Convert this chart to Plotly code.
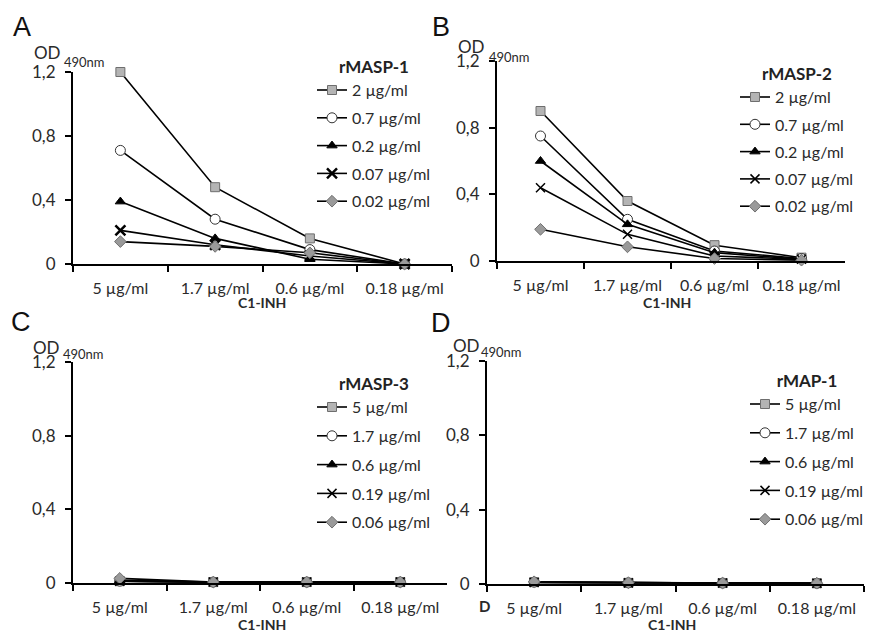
import plotly.graph_objects as go

W, H = 869, 633

# ========== Data ==========
c1inh = ["5 µg/ml", "1.7 µg/ml", "0.6 µg/ml", "0.18 µg/ml"]
y_tickvals = [0, 0.4, 0.8, 1.2]
y_ticktext = ["0", "0,4", "0,8", "1,2"]

# A: rMASP-1
masp1_doses = ["2 µg/ml", "0.7 µg/ml", "0.2 µg/ml", "0.07 µg/ml", "0.02 µg/ml"]
masp1_2 = [1.20, 0.48, 0.16, 0.00]
masp1_07 = [0.71, 0.28, 0.09, 0.00]
masp1_02 = [0.39, 0.16, 0.03, 0.00]
masp1_007 = [0.21, 0.12, 0.05, 0.00]
masp1_002 = [0.14, 0.11, 0.07, 0.00]

# B: rMASP-2
masp2_doses = ["2 µg/ml", "0.7 µg/ml", "0.2 µg/ml", "0.07 µg/ml", "0.02 µg/ml"]
masp2_2 = [0.90, 0.36, 0.095, 0.02]
masp2_07 = [0.75, 0.25, 0.06, 0.015]
masp2_02 = [0.60, 0.22, 0.05, 0.01]
masp2_007 = [0.44, 0.16, 0.03, 0.01]
masp2_002 = [0.19, 0.085, 0.015, 0.005]

# C: rMASP-3
masp3_doses = ["5 µg/ml", "1.7 µg/ml", "0.6 µg/ml", "0.19 µg/ml", "0.06 µg/ml"]
masp3_5 = [0.010, 0.005, 0.005, 0.005]
masp3_17 = [0.010, 0.005, 0.005, 0.005]
masp3_06 = [0.015, 0.005, 0.005, 0.005]
masp3_019 = [0.010, 0.005, 0.005, 0.005]
masp3_006 = [0.025, 0.005, 0.005, 0.005]

# D: rMAP-1
map1_doses = ["5 µg/ml", "1.7 µg/ml", "0.6 µg/ml", "0.19 µg/ml", "0.06 µg/ml"]
map1_5 = [0.010, 0.006, 0.005, 0.004]
map1_17 = [0.010, 0.006, 0.005, 0.004]
map1_06 = [0.008, 0.006, 0.005, 0.004]
map1_019 = [0.008, 0.006, 0.005, 0.004]
map1_006 = [0.012, 0.007, 0.005, 0.004]

# ========== Styles ==========
marker_styles = [
    dict(symbol="square", color="#b4b4b4", size=9, line=dict(color="#6e6e6e", width=1)),
    dict(symbol="circle", color="white", size=10, line=dict(color="#333333", width=1)),
    dict(symbol="triangle-up", color="black", size=9, line=dict(color="black", width=1)),
    dict(symbol="x-thin", color="black", size=9, line=dict(color="black", width=1.5)),
    dict(symbol="diamond", color="#9a9a9a", size=9, line=dict(color="#707070", width=1)),
]

# pixel positions of each panel's parts (left/right, bottom/top, legend, labels)
panels = [
    dict(letter="A", title="rMASP-1", doses=masp1_doses,
         series=[masp1_2, masp1_07, masp1_02, masp1_007, masp1_002],
         xd=(73, 452), yd=(264, 72), leg=(312, 51), gap=4,
         let_xy=(22, 27), od=(33, 53), nm=(63, 62), ttl=(262, 303)),
    dict(letter="B", title="rMASP-2", doses=masp2_doses,
         series=[masp2_2, masp2_07, masp2_02, masp2_007, masp2_002],
         xd=(497, 845), yd=(261, 61), leg=(735, 58), gap=3.5,
         let_xy=(441, 27), od=(457, 46), nm=(488, 57), ttl=(667, 303)),
    dict(letter="C", title="rMASP-3", doses=masp3_doses,
         series=[masp3_5, masp3_17, masp3_06, masp3_019, masp3_006],
         xd=(73, 447), yd=(583, 362), leg=(312, 368), gap=5,
         let_xy=(21, 322), od=(32, 347), nm=(62, 354), ttl=(262, 624)),
    dict(letter="D", title="rMAP-1", doses=map1_doses,
         series=[map1_5, map1_17, map1_06, map1_019, map1_006],
         xd=(487, 864), yd=(584, 361), leg=(745, 365), gap=5,
         let_xy=(441, 323), od=(452, 345), nm=(480, 352), ttl=(672, 624)),
]

font_main = "Lato, 'Open Sans', sans-serif"
fig = go.Figure()
layout = dict(
    width=W, height=H, margin=dict(l=0, r=0, t=0, b=0, autoexpand=False),
    paper_bgcolor="white", plot_bgcolor="white",
    font=dict(family=font_main, color="#2a2a2a", size=15),
    showlegend=True, annotations=[],
)


def px_x(v):
    return v / W


def px_y(v):
    return 1 - v / H


for i, p in enumerate(panels):
    n = "" if i == 0 else str(i + 1)
    xa, ya = "x" + n, "y" + n
    leg = "legend" + n
    for j, (dose, vals) in enumerate(zip(p["doses"], p["series"])):
        ms = dict(marker_styles[j])
        if p["letter"] == "A" and j == 3:
            ms["line"] = dict(color="black", width=2.5)
            ms["size"] = 10
        fig.add_trace(go.Scatter(
            x=c1inh, y=vals, name=dose, mode="lines+markers",
            line=dict(color="black", width=1.6), marker=ms,
            xaxis=xa, yaxis=ya, legend=leg, legendgroup=p["letter"] + str(j),
            cliponaxis=False,
        ))
    x0, x1 = p["xd"]
    yb, yt = p["yd"]
    layout["xaxis" + n] = dict(
        domain=[px_x(x0), px_x(x1)], anchor=ya, type="category", range=[-0.5, 3.5],
        showline=True, linecolor="black", linewidth=2,
        ticks="outside", ticklen=6, tickwidth=2, tickcolor="black",
        tickson="boundaries", ticklabelstandoff=9,
        showgrid=False, zeroline=False, tickfont=dict(size=16), fixedrange=True,
    )
    layout["yaxis" + n] = dict(
        domain=[px_y(yb), px_y(yt)], anchor=xa, range=[0, 1.2],
        tickvals=y_tickvals, ticktext=y_ticktext,
        showline=True, linecolor="black", linewidth=2,
        ticks="outside", ticklen=6, tickwidth=2, tickcolor="black",
        ticklabelstandoff=6,
        showgrid=False, zeroline=False, tickfont=dict(size=17),
    )
    lx, ly = p["leg"]
    layout[leg] = dict(
        x=px_x(lx), y=px_y(ly), xanchor="left", yanchor="top",
        title=dict(text="<b>" + p["title"] + "</b>", side="top center",
                   font=dict(size=17, color="#222")),
        font=dict(size=16, color="#2a2a2a"), bgcolor="rgba(0,0,0,0)",
        traceorder="grouped", tracegroupgap=p["gap"],
    )
    # panel letter
    layout["annotations"].append(dict(
        text=p["letter"], xref="paper", yref="paper",
        x=px_x(p["let_xy"][0]), y=px_y(p["let_xy"][1]), xanchor="center", yanchor="middle",
        showarrow=False, font=dict(family="Liberation Sans, Arial", size=27, color="#111"),
    ))
    # OD 490nm
    layout["annotations"].append(dict(
        text="OD", xref="paper", yref="paper",
        x=px_x(p["od"][0]), y=px_y(p["od"][1]), xanchor="left", yanchor="middle",
        showarrow=False, font=dict(size=17), borderpad=0,
    ))
    layout["annotations"].append(dict(
        text="490nm", xref="paper", yref="paper",
        x=px_x(p["nm"][0]), y=px_y(p["nm"][1]), xanchor="left", yanchor="middle",
        showarrow=False, font=dict(size=13), borderpad=0,
    ))
    # x axis title
    layout["annotations"].append(dict(
        text="<b>C1-INH</b>", xref="paper", yref="paper",
        x=px_x(p["ttl"][0]), y=px_y(p["ttl"][1]), xanchor="center", yanchor="middle",
        showarrow=False, font=dict(size=14),
    ))

# stray bold D under panel D
layout["annotations"].append(dict(
    text="<b>D</b>", xref="paper", yref="paper",
    x=px_x(484), y=px_y(606), xanchor="center", yanchor="middle",
    showarrow=False, font=dict(size=15),
))

fig.update_layout(**layout)
# remove the page's default body margin so the figure sits at the window's corner
fig.write_html("out.html", config={"displayModeBar": False},
               post_script="document.body.style.margin='0';")
